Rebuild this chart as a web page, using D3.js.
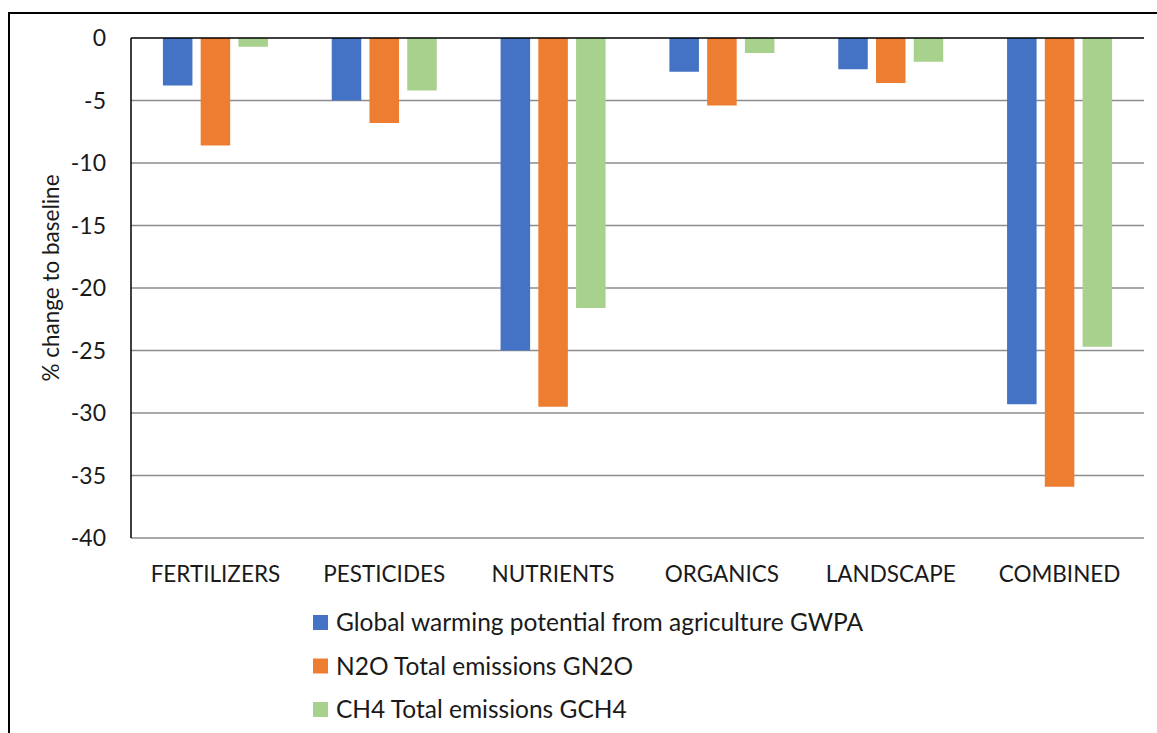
<!DOCTYPE html>
<html>
<head>
<meta charset="utf-8">
<script src="https://cdnjs.cloudflare.com/ajax/libs/d3/7.8.5/d3.min.js"></script>
<style>
  body { margin: 0; background: #fff; }
  svg text { font-family: Lato, "Open Sans", sans-serif; fill: #1a1a1a; }
</style>
</head>
<body>
<div id="chart"></div>
<script>
// chart data
var categories = ['FERTILIZERS', 'PESTICIDES', 'NUTRIENTS', 'ORGANICS', 'LANDSCAPE', 'COMBINED'];
var series_names = [
    'Global warming potential from agriculture GWPA',
    'N2O Total emissions GN2O',
    'CH4 Total emissions GCH4'
];
var gwpa = [-3.8, -5.0, -25.0, -2.7, -2.5, -29.3];
var gn2o = [-8.6, -6.8, -29.5, -5.4, -3.6, -35.9];
var gch4 = [-0.7, -4.2, -21.6, -1.2, -1.9, -24.7];
var y_ticks = [0, -5, -10, -15, -20, -25, -30, -35, -40];

var colors = ['#4472c4', '#ed7d31', '#a9d18e'];
var all_series = [gwpa, gn2o, gch4];

var width = 1157;
var height = 733;

var plot = {left: 131, right: 1144, top: 38, bottom: 538};

var svg = d3.select('#chart')
  .append('svg')
    .attr('width', width)
    .attr('height', height);

// outer frame
svg.append('path')
    .attr('d', 'M9,' + height + 'V13H' + width)
    .attr('fill', 'none')
    .attr('stroke', '#000')
    .attr('stroke-width', 2);

var x = d3.scaleBand()
    .domain(categories)
    .range([plot.left, plot.right])
    .paddingInner(0.378)
    .paddingOuter(0.189);

var xs = d3.scaleBand()
    .domain(d3.range(all_series.length))
    .range([0, x.bandwidth()])
    .paddingInner(0.218);

var y = d3.scaleLinear()
    .domain([0, -40])
    .range([plot.top, plot.bottom]);

// gridlines
svg.append('g')
    .selectAll('line')
    .data(y_ticks.filter(function(d) { return d != 0; }))
  .enter()
    .append('line')
    .attr('x1', plot.left)
    .attr('x2', plot.right)
    .attr('y1', function(d) { return y(d); })
    .attr('y2', function(d) { return y(d); })
    .attr('stroke', '#8c8c8c')
    .attr('stroke-width', 1.6);

// y tick labels
svg.append('g')
    .selectAll('text')
    .data(y_ticks)
  .enter()
    .append('text')
    .attr('x', 106)
    .attr('y', function(d) { return y(d); })
    .attr('dy', '0.36em')
    .attr('text-anchor', 'end')
    .style('font-size', '23px')
    .text(function(d) { return d; });

// bars
for(var s_i = 0; s_i < all_series.length; s_i++) {
    svg.append('g')
        .selectAll('rect')
        .data(all_series[s_i])
      .enter()
        .append('rect')
        .attr('fill', colors[s_i])
        .attr('x', function(d, i) { return x(categories[i]) + xs(s_i); })
        .attr('width', xs.bandwidth())
        .attr('y', y(0))
        .attr('height', function(d) { return y(d) - y(0); });
}

// axis lines
svg.append('line')
    .attr('x1', plot.left).attr('x2', plot.left)
    .attr('y1', plot.top).attr('y2', plot.bottom)
    .attr('stroke', '#000')
    .attr('stroke-width', 1.5);
svg.append('line')
    .attr('x1', plot.left).attr('x2', plot.right)
    .attr('y1', y(0)).attr('y2', y(0))
    .attr('stroke', '#000')
    .attr('stroke-width', 1.5);

// category labels
svg.append('g')
    .selectAll('text')
    .data(categories)
  .enter()
    .append('text')
    .attr('x', function(d) { return x(d) + x.bandwidth() / 2; })
    .attr('y', 582)
    .attr('text-anchor', 'middle')
    .style('font-size', '22.5px')
    .text(function(d) { return d; });

// y axis title
svg.append('text')
    .attr('transform', 'translate(59,278) rotate(-90)')
    .attr('text-anchor', 'middle')
    .style('font-size', '22.5px')
    .text('% change to baseline');

// legend
var legend = svg.append('g')
    .selectAll('g')
    .data(series_names)
  .enter()
    .append('g')
    .attr('transform', function(d, i) { return 'translate(313,' + (615 + i * 43.5) + ')'; });

legend.append('rect')
    .attr('width', 15)
    .attr('height', 15)
    .attr('fill', function(d, i) { return colors[i]; });

legend.append('text')
    .attr('x', 23)
    .attr('y', 7.5)
    .attr('dy', '0.36em')
    .style('font-size', '24.5px')
    .text(function(d) { return d; });
</script>
</body>
</html>
